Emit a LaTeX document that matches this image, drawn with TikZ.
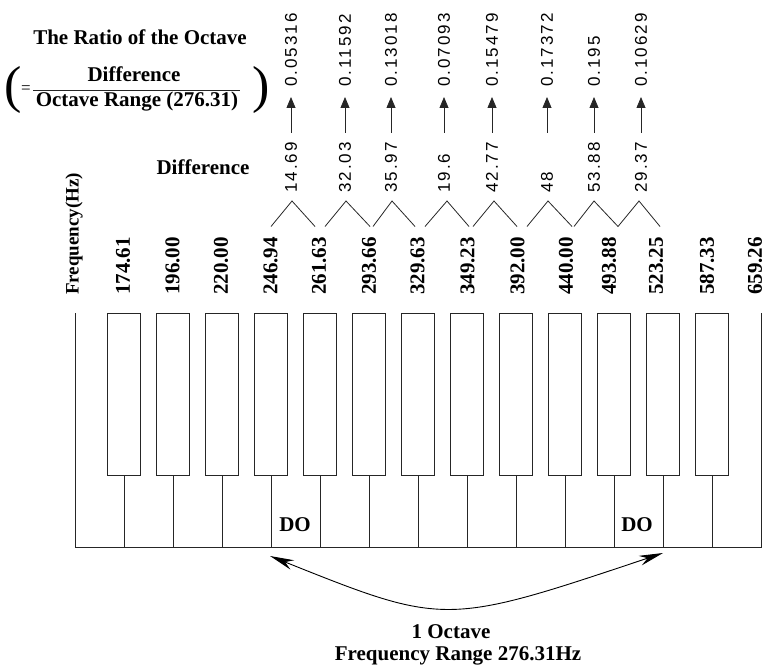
\documentclass[tikz,border=0pt]{standalone}
\usepackage{fontspec}
\setmainfont{Liberation Serif}
\newfontfamily\numfont[LetterSpace=12]{Liberation Sans}
\usetikzlibrary{arrows.meta}
\begin{document}
\begin{tikzpicture}[x=1pt,y=-1pt,
  lbl/.style={font=\fontsize{21}{24}\selectfont\bfseries, inner sep=0pt},
  freq/.style={lbl, rotate=90, anchor=west},
  num/.style={font=\numfont\fontsize{17}{20}\selectfont, inner sep=0pt, rotate=90, anchor=west},
  keyline/.style={line width=1pt, draw=black!85},
  thin/.style={line width=0.8pt, draw=black!85},
  paren/.style={inner sep=0pt, font=\fontsize{52}{52}\selectfont},
  uparrow/.style={thin, -{Triangle[length=11pt,width=9pt]}},
  octarrow/.style={line width=0.9pt, {Stealth[length=24pt,width=10pt]}-{Stealth[length=24pt,width=10pt]}}
]
\useasboundingbox (0,0) rectangle (767,671);

% titles
\node[lbl, anchor=base] (title) at (140,45) {The Ratio of the Octave};
\node[lbl, anchor=base] (num) at (134,82) {Difference};
\node[lbl, anchor=base] (den) at (137,107) {Octave Range (276.31)};
\draw[thin] (33,90) -- (240,90);
\node[paren] (lp) at (13,89.5) {(};
\node[paren] (rp) at (261,89.5) {)};
\node[inner sep=0pt, font=\fontsize{17}{17}\selectfont] (eq) at (26,90) {=};
\node[lbl, anchor=base] (difflbl) at (203,175) {Difference};

% keyboard
\draw[keyline] (75,313) -- (75,547) -- (761,547) -- (761,313);
\foreach \k in {1,...,13} {
  \draw[keyline] (75+49*\k-16.5,313) rectangle (75+49*\k+16.5,475);
  \draw[keyline] (75+49*\k,475) -- (75+49*\k,547);
}

% frequency labels
\node[freq, font=\fontsize{19}{22}\selectfont\bfseries] (f0) at (74,295) {Frequency(Hz)};
\foreach \k/\x/\f in {1/123/174.61,2/172.5/196.00,3/221/220.00,4/270.5/246.94,5/319/261.63,6/369/293.66,7/417.5/329.63,8/467.5/349.23,9/517.5/392.00,10/566/440.00,11/609/493.88,12/656/523.25,13/707/587.33,14/755/659.26} {
  \node[freq] (f\k) at (\x,295) {\f};
}

% differences, zigzags, arrows, ratios
\foreach \i/\l/\p/\r/\c/\d/\q in {
  1/271/292/315/291/14.69/0.05316,
  2/325/346/370/345/32.03/0.11592,
  3/373/392/415/391/35.97/0.13018,
  4/425/447/469/444/19.6/0.07093,
  5/473/494/517/492/42.77/0.15479,
  6/527/548/572/547/48/0.17372,
  7/574/594/618/594/53.88/0.195,
  8/618/639/660/641/29.37/0.10629} {
  \draw[thin] (\l,226.5) -- (\p,201) -- (\r,226.5);
  \node[num] (d\i) at (\c,193) {\d};
  \node[num] (r\i) at (\c,87) {\q};
  \coordinate (as\i) at (\c,133);
  \coordinate (ae\i) at (\c,97);
  \draw[uparrow] (as\i) -- (ae\i);
}

% DO labels
\node[lbl] (do1) at (295,525) {DO};
\node[lbl] (do2) at (637,525) {DO};

% octave arrow
\coordinate (oL) at (270,556);
\coordinate (oR) at (663,553);
\draw[octarrow] (oL) .. controls (445,626) .. (oR);
\node[lbl, anchor=base] (oct1) at (451,638) {1 Octave};
\node[lbl, anchor=base] (oct2) at (458,660) {Frequency Range 276.31Hz};
\end{tikzpicture}
\end{document}
